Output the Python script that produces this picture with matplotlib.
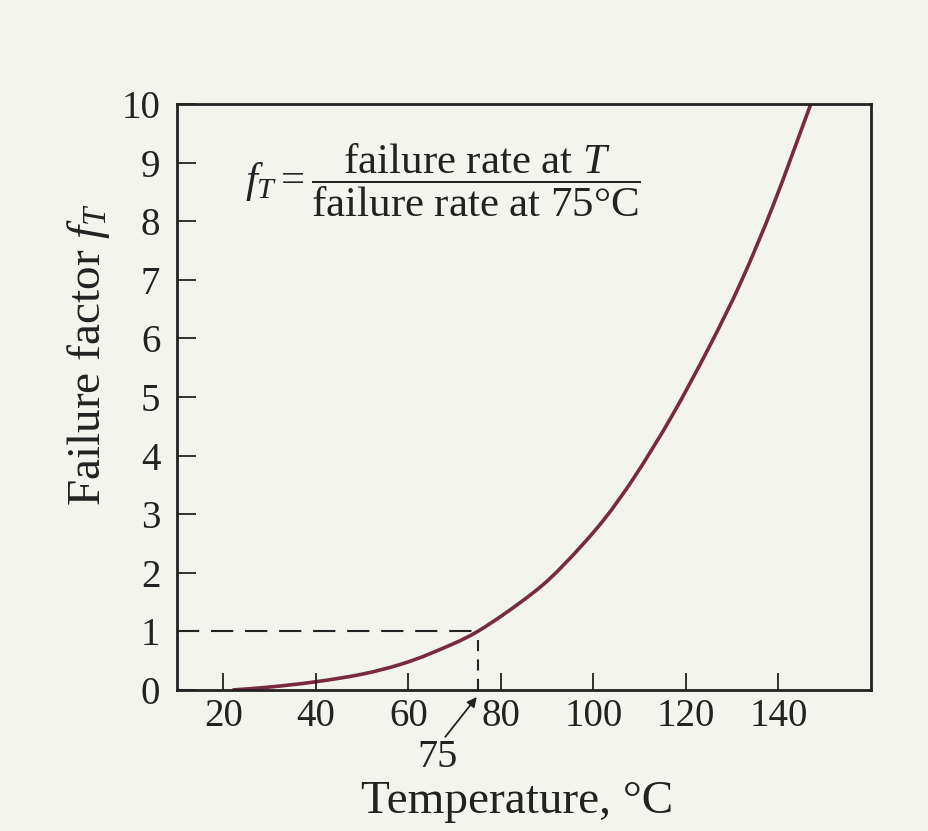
import matplotlib
matplotlib.use("Agg")
import numpy as np
import matplotlib.pyplot as plt
from matplotlib.path import Path
from matplotlib.patches import PathPatch

# values
temperature = [22, 30, 40, 50, 58, 65, 75, 87, 94, 102, 109, 117, 125, 132, 139, 147]
failure_factor = [0.0, 0.05, 0.14, 0.27, 0.43, 0.63, 1.0, 1.66, 2.17, 2.88, 3.65, 4.68, 5.85, 6.98, 8.3, 10.0]
x_ticks = [20, 40, 60, 80, 100, 120, 140]
y_ticks = list(range(0, 11))
ref_temp = 75
ref_factor = 1


def smooth_path(xs, ys):
    # Catmull-Rom through the read points, drawn as cubic Bezier segments
    p = np.column_stack([xs, ys]).astype(float)
    ext = np.vstack([2 * p[0] - p[1], p, 2 * p[-1] - p[-2]])
    verts = [p[0]]
    codes = [Path.MOVETO]
    for i in range(1, len(ext) - 2):
        p0, p1, p2, p3 = ext[i - 1], ext[i], ext[i + 1], ext[i + 2]
        verts += [p1 + (p2 - p0) / 6, p2 - (p3 - p1) / 6, p2]
        codes += [Path.CURVE4] * 3
    return Path(verts, codes)


plt.rcParams['font.family'] = ['Liberation Serif', 'DejaVu Serif']
plt.rcParams['mathtext.fontset'] = 'custom'
plt.rcParams['mathtext.rm'] = 'Liberation Serif'
plt.rcParams['mathtext.it'] = 'Liberation Serif:italic'
plt.rcParams['lines.scale_dashes'] = False

ink = '#222222'
bg = '#f4f4ef'
fig = plt.figure(figsize=(9.29, 8.31), dpi=100, facecolor=bg)
ax = fig.add_axes([0.1905, 0.1697, 0.747, 0.705], facecolor=bg)

ax.add_patch(PathPatch(smooth_path(temperature, failure_factor), fill=False,
                       edgecolor='#7a2a40', lw=2.6))

# dashed guide lines to the 75 C reference point
ax.plot([10, ref_temp], [ref_factor, ref_factor], color=ink, lw=1.5, dashes=(16, 8.5))
ax.plot([ref_temp, ref_temp], [0, ref_factor], color=ink, lw=1.5, dashes=(8, 6))

ax.set_xlim(10, 160)
ax.set_ylim(0, 10)
ax.set_xticks(x_ticks)
ax.set_yticks(y_ticks)
ax.tick_params(axis='x', direction='in', length=12, width=1.3, labelsize=28, pad=6, colors=ink)
ax.tick_params(axis='y', direction='in', length=14, width=1.3, labelsize=28, pad=12, colors=ink)
for s in ax.spines.values():
    s.set_linewidth(2)
    s.set_color(ink)

ax.set_xlabel('Temperature, °C', fontsize=34, color=ink)
ax.xaxis.set_label_coords(0.49, -0.19)
ax.xaxis.label.set_va('center')
ax.set_ylabel('Failure factor $f_T$', fontsize=34, color=ink)
ax.yaxis.set_label_coords(-0.127, 0.572)
ax.yaxis.label.set_va('center')

ax.text(0.098, 0.87, r'$f_T = \dfrac{\mathrm{failure\ rate\ at\ }T}{\mathrm{failure\ rate\ at\ 75°C}}$',
        transform=ax.transAxes, fontsize=31, color=ink, va='center')

ax.text(66.3, -1.16, '75', fontsize=29, ha='center', va='center', color=ink, clip_on=False)
ax.annotate('', xy=(74.8, -0.12), xytext=(68.0, -0.8), textcoords='data', annotation_clip=False,
            arrowprops=dict(arrowstyle='-|>', color=ink, lw=1.3, shrinkA=0, shrinkB=0,
                            mutation_scale=14))

fig.savefig('out.png', dpi=100, facecolor=bg)
